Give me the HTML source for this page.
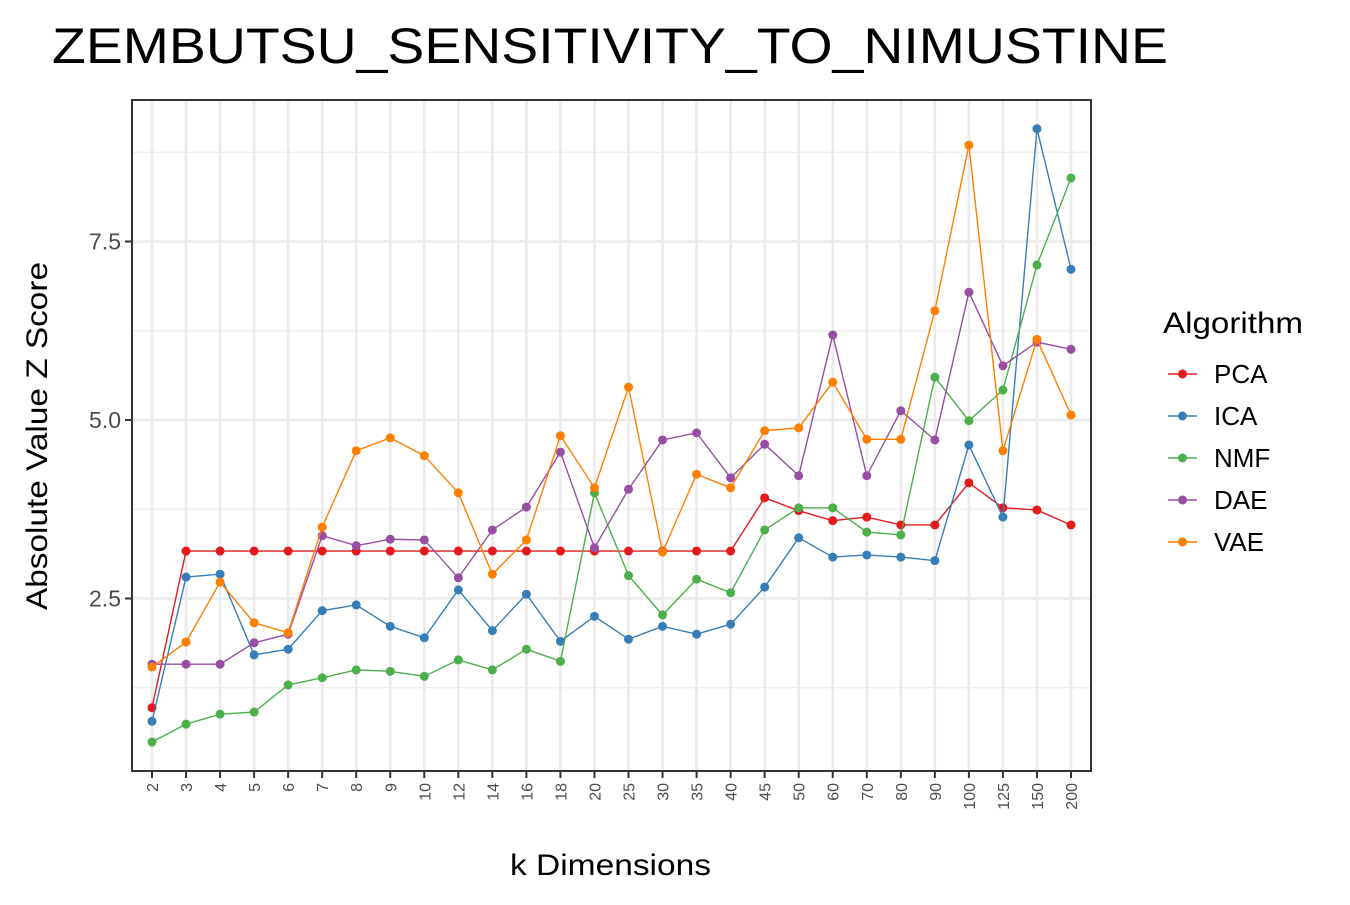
<!DOCTYPE html>
<html><head><meta charset="utf-8"><style>
body{margin:0;background:#fff;font-family:"Liberation Sans",Arial,sans-serif}
</style></head><body>
<svg id="chart" width="1350" height="900" xmlns="http://www.w3.org/2000/svg" font-family="Liberation Sans, Arial, sans-serif">
<text x="52" y="63" font-size="50" textLength="1116" lengthAdjust="spacingAndGlyphs" fill="#000">ZEMBUTSU_SENSITIVITY_TO_NIMUSTINE</text>
<g id="grid"></g><g id="series"></g><g id="axes"></g><g id="legend"></g>
<text x="510" y="875" font-size="30" textLength="201" lengthAdjust="spacingAndGlyphs">k Dimensions</text>
<text transform="translate(47,610) rotate(-90)" font-size="30" textLength="348" lengthAdjust="spacingAndGlyphs">Absolute Value Z Score</text>
</svg>
<script>
const categories=["2","3","4","5","6","7","8","9","10","12","14","16","18","20","25","30","35","40","45","50","60","70","80","90","100","125","150","200"];
const pca=[0.97,3.165,3.165,3.165,3.165,3.165,3.165,3.165,3.165,3.165,3.165,3.165,3.165,3.165,3.165,3.165,3.165,3.165,3.91,3.73,3.59,3.64,3.53,3.53,4.12,3.77,3.74,3.53];
const ica=[0.78,2.80,2.84,1.71,1.79,2.33,2.41,2.11,1.95,2.62,2.05,2.56,1.90,2.25,1.93,2.11,2.00,2.14,2.66,3.35,3.08,3.11,3.08,3.03,4.65,3.64,9.08,7.11];
const nmf=[0.49,0.74,0.88,0.91,1.29,1.39,1.50,1.48,1.41,1.64,1.50,1.79,1.62,3.98,2.82,2.27,2.77,2.58,3.46,3.77,3.77,3.43,3.39,5.60,4.99,5.42,7.17,8.39];
const dae=[1.58,1.58,1.58,1.88,2.00,3.38,3.24,3.33,3.32,2.79,3.46,3.78,4.55,3.21,4.03,4.72,4.82,4.19,4.66,4.22,6.19,4.22,5.13,4.72,6.79,5.76,6.09,5.99];
const vae=[1.54,1.89,2.73,2.16,2.02,3.50,4.57,4.75,4.50,3.98,2.84,3.32,4.78,4.05,5.46,3.15,4.24,4.05,4.85,4.89,5.53,4.73,4.73,6.53,8.85,4.57,6.13,5.07];
const seriesNames=["PCA","ICA","NMF","DAE","VAE"];
const yTicks=[2.5,5.0,7.5];
const yMinor=[1.25,3.75,6.25,8.75];

const NS="http://www.w3.org/2000/svg";
const L=132,R=1091,T=100,B=771;
const xs=i=>152+i*(1071-152)/(categories.length-1);
const ys=v=>420-(v-5)*71.4;
function mk(tag,attrs,parent){const e=document.createElementNS(NS,tag);for(const k in attrs)e.setAttribute(k,attrs[k]);parent.appendChild(e);return e;}
const grid=document.getElementById('grid'),axes=document.getElementById('axes'),ser=document.getElementById('series'),leg=document.getElementById('legend');
mk('rect',{x:L,y:T,width:R-L,height:B-T,fill:'#fff'},grid);
yMinor.forEach(v=>{const l=mk('line',{x1:L,x2:R,y1:ys(v),y2:ys(v),stroke:'#ebebeb','stroke-width':1.3},grid);

});
yTicks.forEach(v=>{const l=mk('line',{x1:L,x2:R,y1:ys(v),y2:ys(v),stroke:'#ebebeb','stroke-width':2.7},grid);


const t=mk('line',{x1:L-7,x2:L,y1:ys(v),y2:ys(v),stroke:'#333','stroke-width':2},axes);


const tx=mk('text',{x:L-11,y:ys(v)+8,'font-size':23,fill:'#4d4d4d','text-anchor':'end'},axes);tx.textContent=v.toFixed(1);

});
categories.forEach((c,i)=>{const x=xs(i);
const l=mk('line',{x1:x,x2:x,y1:T,y2:B,stroke:'#ebebeb','stroke-width':2.7},grid);


const t=mk('line',{x1:x,x2:x,y1:B,y2:B+7,stroke:'#333','stroke-width':2},axes);


const tx=mk('text',{transform:`translate(${x+6},${B+12}) rotate(-90)`,'font-size':16,fill:'#4d4d4d','text-anchor':'end'},axes);tx.textContent=c;

});
const border=mk('rect',{x:L,y:T,width:R-L,height:B-T,fill:'none',stroke:'#333','stroke-width':2},axes);


const data=[pca,ica,nmf,dae,vae];
const colors=["#e41a1c","#377eb8","#4daf4a","#984ea3","#ff7f00"];
data.forEach((d,s)=>{const g=mk('g',{},ser);


const p=mk('polyline',{points:d.map((v,i)=>xs(i)+','+ys(v)).join(' '),fill:'none',stroke:colors[s],'stroke-width':1.4},g);


d.forEach((v,i)=>{const c=mk('circle',{cx:xs(i),cy:ys(v),r:4.5,fill:colors[s]},g);

});});
const lt=mk('text',{x:1163,y:333,'font-size':30,textLength:140,lengthAdjust:'spacingAndGlyphs'},leg);lt.textContent='Algorithm';


seriesNames.forEach((n,s)=>{const y=374+s*42;const g=mk('g',{},leg);


mk('line',{x1:1168,x2:1197,y1:y,y2:y,stroke:colors[s],'stroke-width':1.4},g);
mk('circle',{cx:1182.5,cy:y,r:4.5,fill:colors[s]},g);
const t=mk('text',{x:1214,y:y+9,'font-size':26},g);t.textContent=n;});
</script>
</body></html>
